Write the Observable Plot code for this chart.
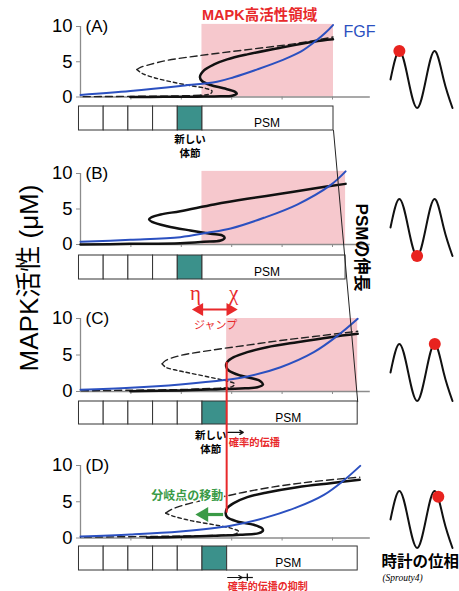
<!DOCTYPE html>
<html><head><meta charset="utf-8">
<script src="https://cdn.jsdelivr.net/npm/d3@7"></script>
<script src="https://cdn.jsdelivr.net/npm/@observablehq/plot@0.6"></script>
<style>
body{margin:0;background:#fff;}
#fig{position:relative;width:459px;height:591px;overflow:hidden;background:#fff;}
#fig svg{position:absolute;left:0;overflow:visible;background:transparent;}
#ylab{position:absolute;left:26px;top:278px;transform:translate(-50%,-50%) rotate(-90deg);white-space:nowrap;font-size:26px;color:#000;font-family:"Liberation Sans",Arial,"Noto Sans CJK JP",sans-serif;}
</style></head><body>
<div id="fig"><div id="ylab">MAPK活性 (μM)</div></div>
<script>
const FONT = '"Liberation Sans", Arial, "Noto Sans CJK JP", sans-serif';
const SERIF = '"Liberation Serif", "Times New Roman", "Noto Sans CJK JP", serif';
const PINK = "#f6c8cd", BLUE = "#2b50c0", TEAL = "#3b918b", RED = "#e8292b", GREEN = "#3a9a46", GRAY = "#8c8c8c";

// ---------------- data ----------------
const panelNames = ["(A)", "(B)", "(C)", "(D)"];
const yTicks = [0, 5, 10];
const xTicks = [1, 2, 3, 4, 5];
const axisEnd = 5.75;
const somiteStart = -0.03, somiteWidth = 0.49;
const whiteSomites = [4, 4, 5, 5];
const psmEnd = [5.02, 5.26, 5.50, 5.50];
const psmLabelX = [3.70, 3.70, 4.12, 4.12];
const pinkX1 = [2.41, 2.41, 2.90];
const pinkX2 = [5.02, 5.26, 5.50];
const pinkTop = [10.3, 10.3, 10.0];

// FGF gradient (blue)
const fgfA = [[0,0.3],[0.99,0.85],[1.98,1.56],[2.71,2.17],[3.04,2.8],[3.51,3.92],[4.03,5.3],[4.37,6.43],[4.66,7.9],[4.86,9.1],[5.01,10.2]];
const fgfB = [[0,0.38],[0.99,0.66],[1.98,1.03],[2.51,1.64],[2.98,2.25],[3.64,3.76],[4.30,5.63],[4.96,8.36],[5.26,10.3]];
const fgfC = [[0,0.23],[0.99,0.5],[1.98,0.96],[2.89,1.6],[3.31,2.05],[3.97,3.33],[4.63,5.39],[5.13,7.8],[5.50,9.95]];
const fgfD = [[0,0.21],[0.99,0.48],[1.98,0.9],[2.98,1.68],[3.64,2.74],[4.30,4.25],[4.83,5.95],[5.22,7.93],[5.55,9.95]];

// current bifurcation curve (solid black)
const solidA = [[0.99,0.0],[1.65,0.02],[2.31,0.05],[2.78,0.09],[3.01,0.19],[3.10,0.47],[3.06,0.76],[2.84,1.23],[2.58,1.70],[2.41,2.27],[2.37,2.84],[2.45,3.78],[2.65,4.63],[2.91,5.34],[3.31,6.05],[3.97,7.0],[4.63,7.85],[5.01,8.18]];
const solidB = [[0,0],[0.99,0.09],[1.98,0.19],[2.45,0.38],[2.78,0.56],[2.86,0.94],[2.81,1.27],[2.58,1.5],[2.18,1.97],[1.72,2.58],[1.42,3.19],[1.36,3.52],[1.40,3.8],[1.59,4.23],[1.98,4.69],[2.65,5.63],[3.31,6.43],[3.97,7.14],[4.63,7.89],[5.26,8.54]];
const solidC = [[0.99,0.05],[1.98,0.14],[2.78,0.32],[3.17,0.41],[3.51,0.59],[3.62,0.96],[3.57,1.42],[3.44,1.74],[3.17,2.19],[2.94,2.88],[2.89,3.42],[2.91,4.02],[3.04,4.7],[3.31,5.39],[3.70,6.07],[4.30,6.76],[4.96,7.44],[5.50,7.9]];
const solidD = [[1.32,0.07],[1.98,0.16],[2.65,0.3],[3.17,0.44],[3.54,0.67],[3.62,1.03],[3.60,1.36],[3.44,1.82],[3.11,2.28],[2.91,2.87],[2.88,3.43],[2.91,4.11],[3.04,4.8],[3.31,5.63],[3.70,6.28],[4.30,7.01],[4.96,7.56],[5.54,8.02]];

// shifted bifurcation curve (dashed): upper, middle, lower branches
const dashUpperA = [[1.12,3.9],[1.19,4.2],[1.39,4.63],[1.72,5.2],[2.31,5.82],[2.98,6.43],[3.64,7.0],[4.30,7.61],[5.01,8.51]];
const dashMiddleA = [[1.12,3.9],[1.22,3.36],[1.46,2.74],[1.79,2.17],[2.18,1.61],[2.48,1.23],[2.61,0.85],[2.58,0.47],[2.38,0.24]];
const dashLowerA = [[2.38,0.24],[1.85,0.14],[0.99,0.09],[0,0.05]];
const dashUpperC = [[1.62,3.79],[1.69,4.25],[1.98,4.93],[2.65,5.71],[3.31,6.35],[3.97,6.99],[4.63,7.53],[5.50,8.26]];
const dashMiddleC = [[1.62,3.79],[1.69,3.33],[1.92,2.88],[2.18,2.51],[2.65,1.83],[2.91,1.42],[3.06,1.05],[3.01,0.68],[2.78,0.46]];
const dashLowerC = [[2.78,0.46],[1.98,0.27],[0.99,0.18],[0,0.09]];
const dashUpperD = [[1.69,3.43],[1.79,3.89],[1.92,4.25],[2.31,5.03],[2.84,5.72],[3.31,6.41],[3.97,7.2],[4.63,7.79],[5.54,8.39]];
const dashMiddleD = [[1.69,3.43],[1.82,3.06],[2.18,2.41],[2.65,1.82],[2.98,1.36],[3.14,0.9],[3.08,0.57],[2.84,0.39]];
const dashLowerD = [[2.84,0.39],[2.31,0.3],[1.32,0.21],[0,0.11]];

const fgf = [fgfA, fgfB, fgfC, fgfD];
const solid = [solidA, solidB, solidC, solidD];
const dashUpper = [dashUpperA, null, dashUpperC, dashUpperD];
const dashMiddle = [dashMiddleA, null, dashMiddleC, dashMiddleD];
const dashLower = [dashLowerA, null, dashLowerC, dashLowerD];

// segmentation clock (phase in quarter periods)
const wavePhase = [0, 1, 2, 3, 4, 5, 6, 7];
const waveLevel = [0, 1, 0, -1, 0, 1, 0, -1];
const clockPhase = [1, 3, 5, 5.4];
const clockLevel = [1, -1, 1, 0.8];

// annotations
const jump = {from: 2.22, to: 3.11, y: 11.23, eta: [2.28, 13.4], chi: [3.04, 13.4], label: [2.68, 9.04]};
const propagation = {x1: 2.92, x2: 3.23, arrowY: -5.6, textY: -7.0};
const blocked = {x1: 2.92, head: 3.21, x2: 3.43, bar: 3.31, y: -5.45, barY1: -4.95, barY2: -5.95, textY: -6.7};
const shift = {from: 2.84, to: 2.28, y: 3.24, label: [2.12, 5.72]};
const redLine = {x: 2.90, fromC: 4.0, toD: 3.43};

// ---------------- layout ----------------
const W = 459, H = 591;
const xDomain = [0, 7.52];
const pxPerU = (W - 80) / (xDomain[1] - xDomain[0]);
const layout = [
  {top: 0,   height: 145, mt: 26, mb: 48.5, boxGap: 9.5, boxH: 24, waveMid: 78.5, tealDx: 0, tealDy: 2},
  {top: 145, height: 145, mt: 28, mb: 46,   boxGap: 11,  boxH: 24, waveMid: 226.5},
  {top: 290, height: 150, mt: 28, mb: 49,   boxGap: 10,  boxH: 23, waveMid: 371.5, tealDx: -4, tealDy: 4},
  {top: 440, height: 151, mt: 25, mb: 53.5, boxGap: 8.5, boxH: 24, waveMid: 518.5},
];

const fig = document.getElementById("fig");
const plots = [];
const boxRows = [];

function pts(arr) { return arr.map(([x, y]) => ({x, y})); }

for (let i = 0; i < 4; i++) {
  const L = layout[i];
  const ppu = (L.height - L.mt - L.mb) / 10;
  const boxTop = -L.boxGap / ppu, boxBot = -(L.boxGap + L.boxH) / ppu;
  boxRows.push({boxTop, boxBot});
  const nW = whiteSomites[i];
  const boxes = [];
  for (let k = 0; k < nW; k++) boxes.push({x1: somiteStart + k * somiteWidth, x2: somiteStart + (k + 1) * somiteWidth, y1: boxBot, y2: boxTop, fill: "white"});
  boxes.push({x1: somiteStart + nW * somiteWidth, x2: somiteStart + (nW + 1) * somiteWidth, y1: boxBot, y2: boxTop, fill: TEAL});
  boxes.push({x1: somiteStart + (nW + 1) * somiteWidth, x2: psmEnd[i], y1: boxBot, y2: boxTop, fill: "white"});
  const tealCenter = somiteStart + (nW + 0.5) * somiteWidth;

  const marks = [];
  if (i < 3) marks.push(Plot.rect([{x1: pinkX1[i], x2: pinkX2[i], y1: 0, y2: pinkTop[i]}], {x1: "x1", x2: "x2", y1: "y1", y2: "y2", fill: PINK}));
  marks.push(Plot.rect(boxes, {x1: "x1", x2: "x2", y1: "y1", y2: "y2", fill: "fill", stroke: "#333", strokeWidth: 1}));
  marks.push(Plot.ruleX([0], {y1: 0, y2: 10, stroke: GRAY, strokeWidth: 1.3}));
  marks.push(Plot.ruleY([0], {x1: 0, x2: axisEnd, stroke: GRAY, strokeWidth: 1.3}));
  marks.push(Plot.axisY(yTicks, {anchor: "left", tickSize: 4, tickPadding: 4, fontSize: 18.5, stroke: GRAY, fill: "black", label: null}));
  marks.push(Plot.axisX(xTicks, {anchor: "bottom", tickSize: 3, tickFormat: () => "", stroke: GRAY, label: null}));

  if (dashLower[i]) marks.push(Plot.line(pts(dashLower[i]), {x: "x", y: "y", stroke: "#222", strokeWidth: 1.4, strokeDasharray: "7,4", curve: "catmull-rom"}));
  if (dashMiddle[i]) marks.push(Plot.line(pts(dashMiddle[i]), {x: "x", y: "y", stroke: "#222", strokeWidth: 1.4, strokeDasharray: "3.5,3", curve: "catmull-rom"}));
  if (dashUpper[i]) marks.push(Plot.line(pts(dashUpper[i]), {x: "x", y: "y", stroke: "#222", strokeWidth: 1.4, strokeDasharray: "7,4", curve: "catmull-rom"}));
  marks.push(Plot.line(pts(solid[i]), {x: "x", y: "y", stroke: "#111", strokeWidth: 2.5, curve: "catmull-rom"}));
  marks.push(Plot.line(pts(fgf[i]), {x: "x", y: "y", stroke: BLUE, strokeWidth: 2, curve: "catmull-rom"}));

  marks.push(Plot.text([panelNames[i]], {x: 0, y: 10, text: d => d, dx: 5, textAnchor: "start", fontSize: 17, fill: "black"}));
  marks.push(Plot.text(["PSM"], {x: psmLabelX[i], y: (boxTop + boxBot) / 2, dy: 5, text: d => d, fontSize: 12, fill: "black"}));

  if (i === 0) {
    marks.push(Plot.text(["MAPK高活性領域"], {x: pinkX1[0], y: 11.56, text: d => d, textAnchor: "start", fontSize: 14.5, fontWeight: "bold", fill: RED}));
    marks.push(Plot.text(["FGF"], {x: 5.22, y: 9.3, text: d => d, textAnchor: "start", fontSize: 16, fill: BLUE}));
  }
  if (i === 0 || i === 2) {
    marks.push(Plot.text(["新しい\n体節"], {x: tealCenter, y: boxBot, text: d => d, dx: L.tealDx, dy: L.tealDy, lineAnchor: "top", lineHeight: 1.38, fontSize: 10.5, fontWeight: "bold", fill: "black"}));
  }
  if (i === 1) {
    marks.push(Plot.text(["PSMの伸長"], {x: 5.58, y: -0.42, text: d => d, rotate: 90, fontSize: 17, fontWeight: "bold", fill: "black"}));
  }
  if (i === 2) {
    const hp = 7 / pxPerU;
    marks.push(Plot.ruleY([jump.y], {x1: jump.from + hp * 0.6, x2: jump.to - hp * 0.6, stroke: RED, strokeWidth: 2}));
    marks.push(Plot.dot([{x: jump.from + hp, y: jump.y, r: -90}, {x: jump.to - hp, y: jump.y, r: 90}], {x: "x", y: "y", rotate: "r", symbol: "triangle", r: 4.8, fill: RED, stroke: "none"}));
    marks.push(Plot.text(["η"], {x: jump.eta[0], y: jump.eta[1], text: d => d, fontSize: 21, fontFamily: SERIF, fill: RED}));
    marks.push(Plot.text(["χ"], {x: jump.chi[0], y: jump.chi[1], text: d => d, fontSize: 21, fontFamily: SERIF, fill: RED}));
    marks.push(Plot.text(["ジャンプ"], {x: jump.label[0], y: jump.label[1], text: d => d, fontSize: 11, fill: RED}));
    marks.push(Plot.arrow([propagation], {x1: "x1", x2: "x2", y1: propagation.arrowY, y2: propagation.arrowY, stroke: "#111", strokeWidth: 1.2, headLength: 5}));
    marks.push(Plot.text(["確率的伝播"], {x: propagation.x1, y: propagation.textY, text: d => d, dx: 1, textAnchor: "start", fontSize: 10.3, fontWeight: "bold", fill: RED}));
  }
  if (i === 3) {
    const hp = 8.5 / pxPerU;
    marks.push(Plot.text(["分岐点の移動"], {x: shift.label[0], y: shift.label[1], text: d => d, fontSize: 12, fontWeight: "bold", fill: GREEN, stroke: "white", strokeWidth: 3}));
    marks.push(Plot.ruleY([shift.y], {x1: shift.from, x2: shift.to + hp, stroke: GREEN, strokeWidth: 3.2}));
    marks.push(Plot.dot([{x: shift.to + hp, y: shift.y}], {x: "x", y: "y", rotate: -90, symbol: "triangle", r: 5.5, fill: GREEN, stroke: "none"}));
    marks.push(Plot.arrow([blocked], {x1: "x1", x2: "head", y1: blocked.y, y2: blocked.y, stroke: "#111", strokeWidth: 1.2, headLength: 5}));
    marks.push(Plot.ruleY([blocked.y], {x1: blocked.head, x2: blocked.x2, stroke: "#111", strokeWidth: 1.2}));
    marks.push(Plot.ruleX([blocked.bar], {y1: blocked.barY1, y2: blocked.barY2, stroke: "#111", strokeWidth: 1.3}));
    marks.push(Plot.text(["確率的伝播の抑制"], {x: blocked.x1, y: blocked.textY, text: d => d, textAnchor: "start", fontSize: 10, fontWeight: "bold", fill: RED}));
    marks.push(Plot.text(["時計の位相"], {x: 6.74, y: -3.38, text: d => d, fontSize: 15.5, fontWeight: "bold", fill: "black"}));
    marks.push(Plot.text(["(Sprouty4)"], {x: 6.39, y: -5.45, text: d => d, fontSize: 9.5, fontStyle: "italic", fontFamily: SERIF, fill: "black"}));
  }

  const p = Plot.plot({
    width: W, height: L.height,
    marginLeft: 80, marginRight: 0, marginTop: L.mt, marginBottom: L.mb,
    x: {domain: xDomain, axis: null},
    y: {domain: [0, 10], axis: null},
    style: {top: L.top + "px", position: "absolute", overflow: "visible", background: "transparent", fontFamily: FONT},
    marks
  });
  fig.appendChild(p);
  plots.push(p);

  // clock wave
  const wave = wavePhase.map((x, k) => ({x, y: waveLevel[k]}));
  const w = Plot.plot({
    width: 70, height: 72, marginLeft: 4, marginRight: 4, marginTop: 7.5, marginBottom: 7.5,
    x: {domain: [0, 7], axis: null},
    y: {domain: [-1, 1], axis: null},
    style: {top: (L.waveMid - 36) + "px", left: "386px", position: "absolute", overflow: "visible", background: "transparent"},
    marks: [
      Plot.line(wave, {x: "x", y: "y", curve: "natural", stroke: "#111", strokeWidth: 2}),
      Plot.dot([{x: clockPhase[i], y: clockLevel[i]}], {x: "x", y: "y", r: 6, fill: "#e8231f", stroke: "none"})
    ]
  });
  w.style.left = "386px";
  fig.appendChild(w);
}

function yPx(i, v) {
  const s = plots[i].scale("y");
  const f = s.apply ? s.apply : (t => s.range[0] + (t - s.domain[0]) / (s.domain[1] - s.domain[0]) * (s.range[1] - s.range[0]));
  return layout[i].top + f(v);
}

const psmLine = [{x: psmEnd[0], y: yPx(0, boxRows[0].boxBot)}, {x: psmEnd[2], y: yPx(2, boxRows[2].boxTop)}];
const overlay = Plot.plot({
  width: W, height: H, marginLeft: 80, marginRight: 0, marginTop: 0, marginBottom: 0,
  x: {domain: xDomain, axis: null},
  y: {type: "identity", axis: null},
  style: {top: "0px", position: "absolute", overflow: "visible", background: "transparent"},
  marks: [
    Plot.line(psmLine, {x: "x", y: "y", stroke: "#222", strokeWidth: 1}),
    Plot.ruleX([redLine.x], {y1: yPx(2, redLine.fromC), y2: yPx(3, redLine.toD), stroke: RED, strokeWidth: 2})
  ]
});
fig.appendChild(overlay);
</script>
</body></html>
